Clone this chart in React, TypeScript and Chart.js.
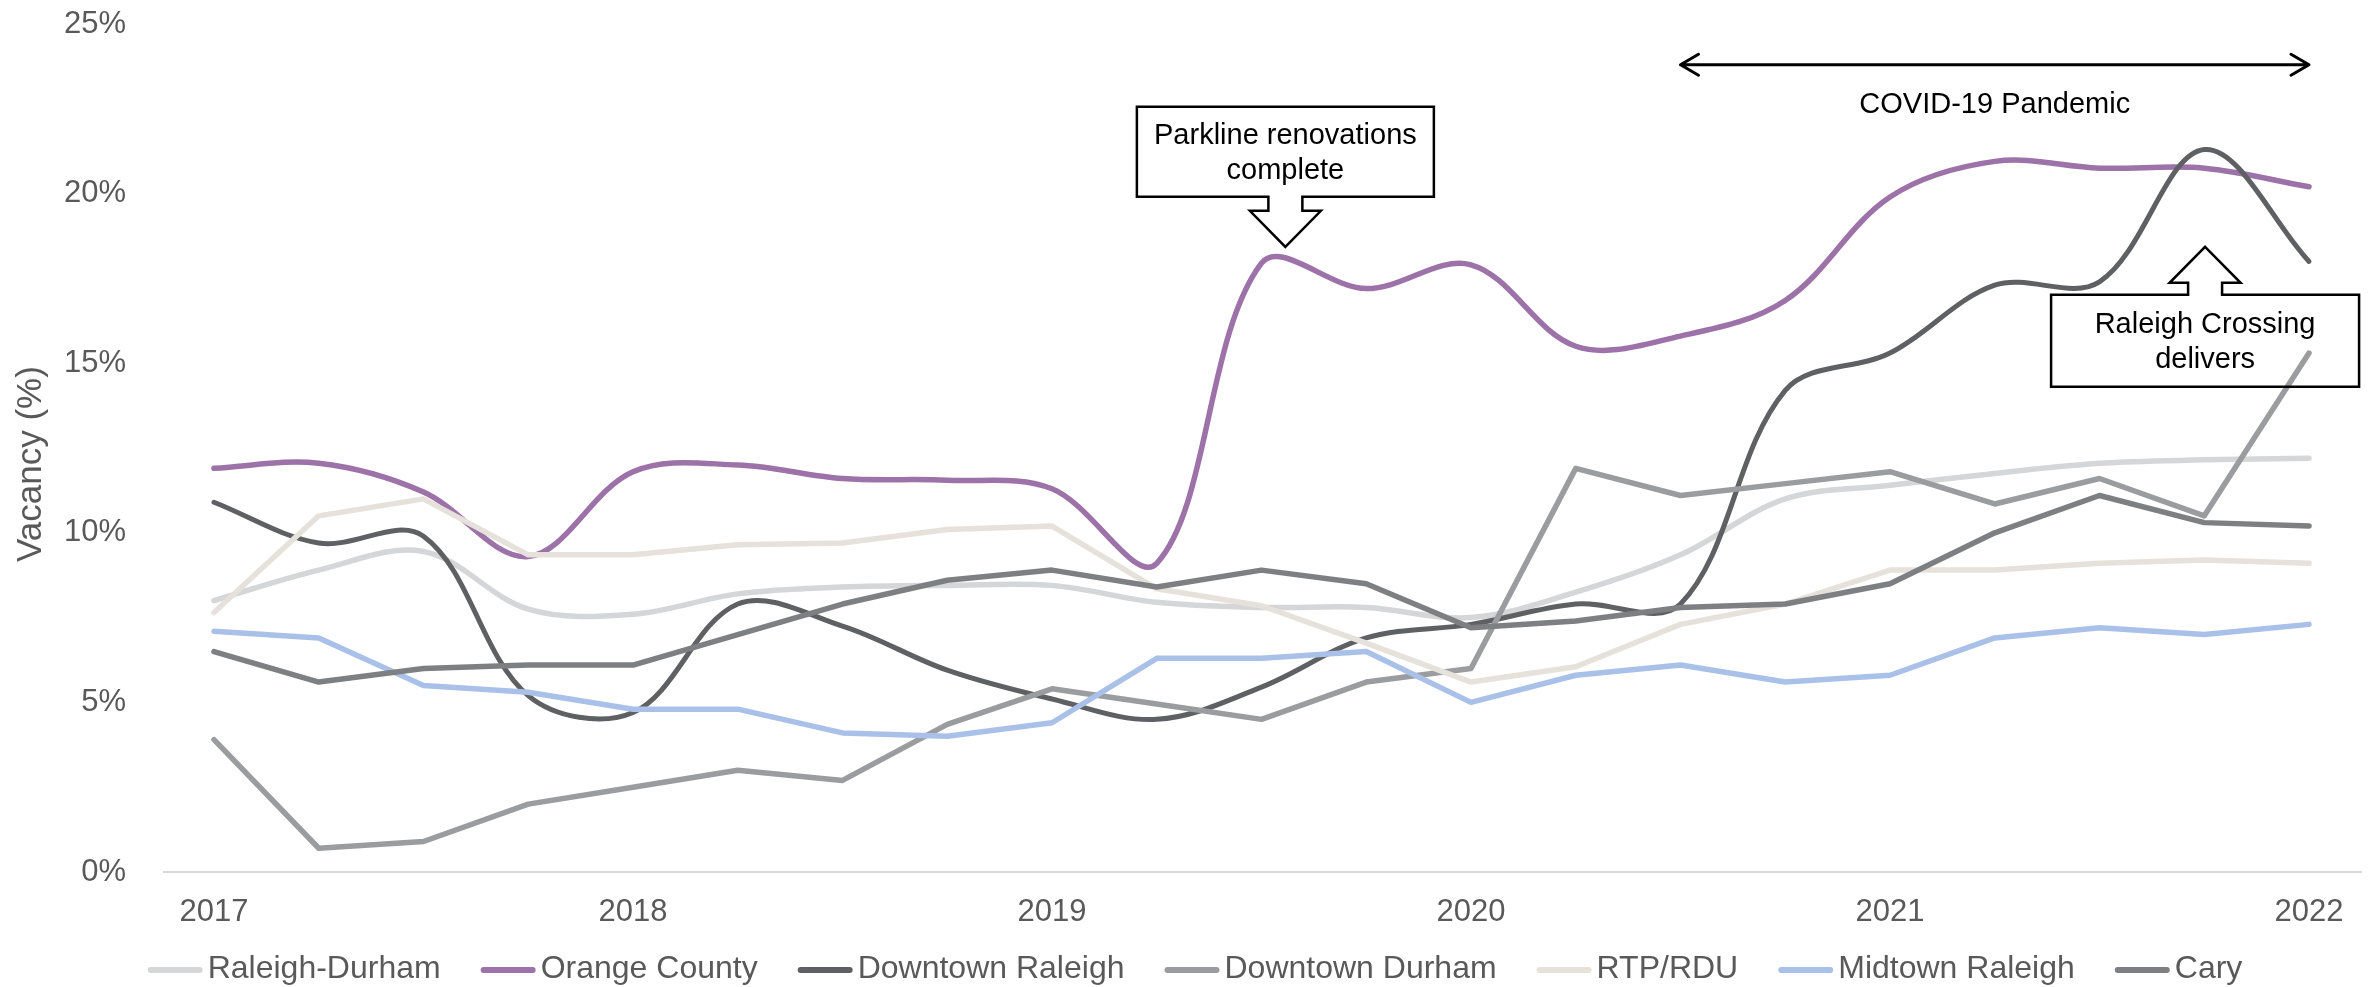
import { useEffect, useRef } from "react";
import { Chart, registerables } from "chart.js";

Chart.register(...registerables);

// ---------- DATA ----------
const QUARTER_X = [
  2017, 2017.25, 2017.5, 2017.75,
  2018, 2018.25, 2018.5, 2018.75,
  2019, 2019.25, 2019.5, 2019.75,
  2020, 2020.25, 2020.5, 2020.75,
  2021, 2021.25, 2021.5, 2021.75,
  2022,
];
const YEAR_TICKS = [2017, 2018, 2019, 2020, 2021, 2022];
const Y_TICKS = [0, 5, 10, 15, 20, 25];

const RALEIGH_DURHAM = [8.0, 8.9, 9.45, 7.75, 7.6, 8.2, 8.4, 8.45, 8.45, 7.95, 7.8, 7.8, 7.5, 8.25, 9.35, 11.0, 11.4, 11.75, 12.05, 12.15, 12.2];
const ORANGE_COUNTY = [11.9, 12.05, 11.2, 9.3, 11.8, 12.0, 11.6, 11.55, 11.3, 9.1, 17.95, 17.2, 17.9, 15.5, 15.8, 16.85, 19.9, 20.95, 20.75, 20.75, 20.2];
const DOWNTOWN_RALEIGH = [10.9, 9.7, 9.9, 5.2, 4.7, 7.9, 7.25, 5.95, 5.1, 4.5, 5.45, 6.9, 7.3, 7.9, 7.9, 14.2, 15.3, 17.3, 17.4, 21.3, 18.0];
const DOWNTOWN_DURHAM = [3.9, 0.7, 0.9, 2.0, 2.5, 3.0, 2.7, 4.35, 5.4, 4.95, 4.5, 5.6, 6.0, 11.9, 11.1, 11.45, 11.8, 10.85, 11.6, 10.5, 15.3];
const RTP_RDU = [7.65, 10.5, 11.0, 9.35, 9.35, 9.65, 9.7, 10.1, 10.2, 8.35, 7.85, 6.75, 5.6, 6.05, 7.3, 7.9, 8.9, 8.9, 9.1, 9.2, 9.1];
const MIDTOWN_RALEIGH = [7.1, 6.9, 5.5, 5.3, 4.8, 4.8, 4.1, 4.0, 4.4, 6.3, 6.3, 6.5, 5.0, 5.8, 6.1, 5.6, 5.8, 6.9, 7.2, 7.0, 7.3];
const CARY = [6.5, 5.6, 6.0, 6.1, 6.1, 7.0, 7.9, 8.6, 8.9, 8.4, 8.9, 8.5, 7.2, 7.4, 7.8, 7.9, 8.5, 10.0, 11.1, 10.3, 10.2];

const SERIES_NAMES = ["Raleigh-Durham", "Orange County", "Downtown Raleigh", "Downtown Durham", "RTP/RDU", "Midtown Raleigh", "Cary"];
const SERIES_VALUES = [RALEIGH_DURHAM, ORANGE_COUNTY, DOWNTOWN_RALEIGH, DOWNTOWN_DURHAM, RTP_RDU, MIDTOWN_RALEIGH, CARY];
const SERIES_COLORS = ["#d5d6d8", "#9c72a8", "#5f6064", "#9b9c9f", "#e6e2db", "#a9c1e8", "#7d7f82"];
const SERIES_SMOOTH = [true, true, true, false, false, false, false];
const SERIES_WIDTH = [5.5, 5.5, 5, 5.5, 5.5, 5.5, 5.5];

const Y_TITLE = "Vacancy (%)";

// Annotations (anchors in data units)
const COVID_LABEL = "COVID-19 Pandemic";
const COVID_START = 2020.5;
const COVID_END = 2022;
const COVID_ARROW_Y = 23.8;
const COVID_TEXT_Y = 22.6;
const PARKLINE_LINES = ["Parkline renovations", "complete"];
const PARKLINE_TIP = { x: 2019.557, y: 18.43 };
const RALEIGH_CROSSING_LINES = ["Raleigh Crossing", "delivers"];
const RALEIGH_CROSSING_TIP = { x: 2021.752, y: 18.43 };

const FONT = "'Liberation Sans', Arial, Helvetica, sans-serif";
const TEXT_GRAY = "#595959";

function drawCallout(ctx: CanvasRenderingContext2D, tx: number, ty: number, dir: "down" | "up", boxW: number, boxH: number, shaftLen: number, lines: string[]) {
  const headLen = 36, headHalf = 35.5, shaftHalf = 17;
  const s = dir === "down" ? -1 : 1; // direction from tip toward box
  const headBase = ty + s * headLen;
  const boxEdge = headBase + s * shaftLen;
  const boxFar = boxEdge + s * boxH;
  const bx0 = tx - boxW / 2, bx1 = tx + boxW / 2;
  ctx.beginPath();
  ctx.moveTo(tx, ty);
  ctx.lineTo(tx + headHalf, headBase);
  ctx.lineTo(tx + shaftHalf, headBase);
  ctx.lineTo(tx + shaftHalf, boxEdge);
  ctx.lineTo(bx1, boxEdge);
  ctx.lineTo(bx1, boxFar);
  ctx.lineTo(bx0, boxFar);
  ctx.lineTo(bx0, boxEdge);
  ctx.lineTo(tx - shaftHalf, boxEdge);
  ctx.lineTo(tx - shaftHalf, headBase);
  ctx.lineTo(tx - headHalf, headBase);
  ctx.closePath();
  ctx.strokeStyle = "#000";
  ctx.lineWidth = 2.5;
  ctx.lineJoin = "miter";
  ctx.stroke();
  const cy = (boxEdge + boxFar) / 2 + 2;
  ctx.fillStyle = "#000";
  ctx.font = `29px ${FONT}`;
  ctx.textAlign = "center";
  ctx.textBaseline = "middle";
  const lh = 35;
  lines.forEach((t, i) => {
    ctx.fillText(t, tx, cy + (i - (lines.length - 1) / 2) * lh);
  });
}

const annotationPlugin = {
  id: "customAnnotations",
  afterDatasetsDraw(chart: any) {
    const { ctx, scales } = chart;
    const xs = scales.x, ys = scales.y;
    ctx.save();
    // COVID double arrow
    const x1 = xs.getPixelForValue(COVID_START);
    const x2 = xs.getPixelForValue(COVID_END);
    const ay = ys.getPixelForValue(COVID_ARROW_Y);
    ctx.strokeStyle = "#000";
    ctx.lineWidth = 3;
    ctx.lineCap = "round";
    ctx.lineJoin = "round";
    ctx.beginPath();
    ctx.moveTo(x1, ay);
    ctx.lineTo(x2, ay);
    ctx.moveTo(x1 + 18, ay - 10.5);
    ctx.lineTo(x1, ay);
    ctx.lineTo(x1 + 18, ay + 10.5);
    ctx.moveTo(x2 - 18, ay - 10.5);
    ctx.lineTo(x2, ay);
    ctx.lineTo(x2 - 18, ay + 10.5);
    ctx.stroke();
    ctx.fillStyle = "#000";
    ctx.font = `29px ${FONT}`;
    ctx.textAlign = "center";
    ctx.textBaseline = "middle";
    ctx.fillText(COVID_LABEL, (x1 + x2) / 2, ys.getPixelForValue(COVID_TEXT_Y));

    drawCallout(ctx, xs.getPixelForValue(PARKLINE_TIP.x), ys.getPixelForValue(PARKLINE_TIP.y), "down", 297, 90, 14, PARKLINE_LINES);
    drawCallout(ctx, xs.getPixelForValue(RALEIGH_CROSSING_TIP.x), ys.getPixelForValue(RALEIGH_CROSSING_TIP.y), "up", 308, 92, 12, RALEIGH_CROSSING_LINES);
    ctx.restore();
  },
};

const legendPlugin = {
  id: "customLegend",
  afterDraw(chart: any) {
    const { ctx, width, scales } = chart;
    const ys = scales.y;
    ctx.save();
    // y-axis title
    ctx.save();
    ctx.translate(ys.left + 31, (ys.top + ys.bottom) / 2 + 16);
    ctx.rotate(-Math.PI / 2);
    ctx.fillStyle = TEXT_GRAY;
    ctx.font = `35px ${FONT}`;
    ctx.textAlign = "center";
    ctx.textBaseline = "middle";
    ctx.fillText(Y_TITLE, 0, 0);
    ctx.restore();

    // legend
    ctx.font = `32px ${FONT}`;
    const sw = 55, gap = 5, itemGap = 40;
    const widths = SERIES_NAMES.map((n) => ctx.measureText(n).width);
    const total = widths.reduce((a, w) => a + sw + gap + w, 0) + itemGap * (SERIES_NAMES.length - 1);
    let x = width / 2 + 7 - total / 2;
    const y = 970;
    SERIES_NAMES.forEach((name, i) => {
      ctx.strokeStyle = SERIES_COLORS[i];
      ctx.lineWidth = 6;
      ctx.lineCap = "round";
      ctx.beginPath();
      ctx.moveTo(x + 3, y);
      ctx.lineTo(x + sw - 3, y);
      ctx.stroke();
      ctx.fillStyle = TEXT_GRAY;
      ctx.textAlign = "left";
      ctx.textBaseline = "middle";
      ctx.fillText(name, x + sw + gap, y - 1);
      x += sw + gap + widths[i] + itemGap;
    });
    ctx.restore();
  },
};

export default function App() {
  const canvasRef = useRef<HTMLCanvasElement | null>(null);

  useEffect(() => {
    document.body.style.margin = "0";
    const canvas = canvasRef.current;
    if (!canvas) return;
    const datasets = SERIES_NAMES.map((name, i) => ({
      label: name,
      data: QUARTER_X.map((x, j) => ({ x, y: SERIES_VALUES[i][j] })),
      borderColor: SERIES_COLORS[i],
      backgroundColor: SERIES_COLORS[i],
      borderWidth: SERIES_WIDTH[i],
      tension: SERIES_SMOOTH[i] ? 0.35 : 0,
      pointRadius: 0,
      pointHoverRadius: 0,
      fill: false,
      borderCapStyle: "round" as const,
      borderJoinStyle: "round" as const,
      order: SERIES_NAMES.length - i,
    }));

    const chart = new Chart(canvas, {
      type: "line",
      data: { datasets },
      options: {
        animation: false,
        responsive: false,
        devicePixelRatio: 1,
        events: [],
        layout: { padding: { top: 24, right: 15, bottom: 0, left: 0 } },
        plugins: {
          legend: { display: false },
          tooltip: { enabled: false },
          title: { display: false },
        },
        scales: {
          x: {
            type: "linear",
            min: 2016.8807,
            max: 2022.1241,
            afterFit: (scale: any) => {
              scale.height = 115;
              scale.paddingLeft = 0;
              scale.paddingRight = 0;
            },
            afterBuildTicks: (scale: any) => {
              scale.ticks = YEAR_TICKS.map((v) => ({ value: v }));
            },
            grid: { display: false },
            border: { display: true, color: "#d9d9d9", width: 2 },
            ticks: {
              autoSkip: false,
              maxRotation: 0,
              padding: 14,
              color: TEXT_GRAY,
              font: { family: FONT, size: 31 },
              callback: (v: any) => String(v),
            },
          },
          y: {
            type: "linear",
            min: 0,
            max: 25,
            afterFit: (scale: any) => {
              scale.width = 164;
              scale.paddingTop = 0;
              scale.paddingBottom = 0;
            },
            afterBuildTicks: (scale: any) => {
              scale.ticks = Y_TICKS.map((v) => ({ value: v }));
            },
            grid: { display: false },
            border: { display: false },
            ticks: {
              padding: 30,
              color: TEXT_GRAY,
              font: { family: FONT, size: 31 },
              callback: (v: any) => `${v}%`,
            },
          },
        },
      },
      plugins: [annotationPlugin, legendPlugin],
    });
    return () => chart.destroy();
  }, []);

  return (
    <div style={{ width: 2376, height: 987 }}>
      <canvas ref={canvasRef} width={2376} height={987} style={{ display: "block", width: 2376, height: 987 }} />
    </div>
  );
}
